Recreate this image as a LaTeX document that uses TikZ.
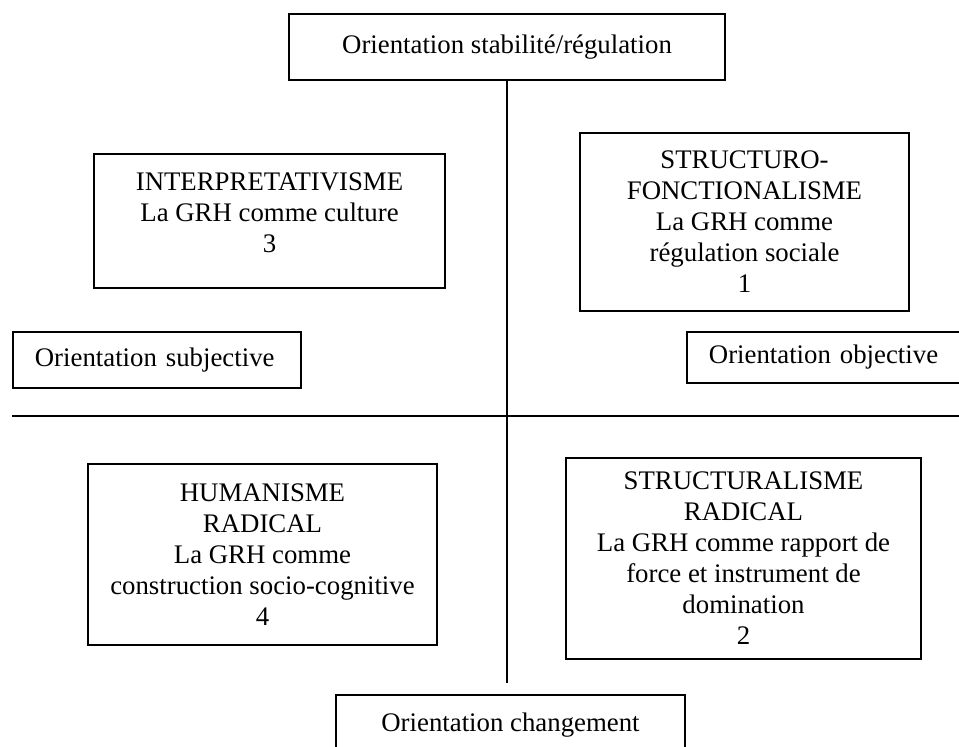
\documentclass[tikz,border=0pt]{standalone}
\usepackage{fontspec}
\setmainfont{Liberation Serif}

\begin{document}
\begin{tikzpicture}[
    x=0.5pt, y=-0.5pt,
    every node/.style={font=\fontsize{13.4}{15.5}\selectfont},
    quad/.style={rectangle, draw, line width=0.9pt, align=center, inner sep=0pt},
    orient/.style={rectangle, draw, line width=0.9pt, align=left, inner ysep=0pt, inner xsep=11pt, text width=122pt, anchor=west},
    axis/.style={draw, line width=0.9pt}
]

\useasboundingbox (0,0) rectangle (959,747);
\clip (0,0) rectangle (959,747);

% Poles
\node[quad, minimum width=218pt, minimum height=33pt] (stab) at (507,47) {Orientation stabilité/régulation};
\node[quad, minimum width=174.5pt, minimum height=30pt] (chg) at (510.5,725) {Orientation changement};
\node[orient, minimum height=28pt] (subj) at (12,360) {Orientation subjective};
\node[orient, minimum height=25.5pt] (obj) at (686,357.5) {Orientation objective};

% Quadrants
\node[quad, minimum width=175.5pt, minimum height=67pt] (interp) at (269.5,221) {INTERPRETATIVISME\\La GRH comme culture\\3\rule[-8.5pt]{0pt}{8.5pt}};
\node[quad, minimum width=164.5pt, minimum height=89pt] (fonct) at (744.5,222) {STRUCTURO-\\FONCTIONALISME\\La GRH comme\\régulation sociale\\1};
\node[quad, minimum width=174.5pt, minimum height=90.5pt] (human) at (262.5,554.5) {HUMANISME\\RADICAL\\La GRH comme\\construction socio-cognitive\\4};
\node[quad, minimum width=177.5pt, minimum height=100.5pt] (radical) at (743.5,558.5) {STRUCTURALISME\\RADICAL\\La GRH comme rapport de\\force et instrument de\\domination\\2};

% Axes
\coordinate (vend) at (507,683);
\coordinate (hleft) at (12,416);
\coordinate (hright) at (960,416);
\draw[axis] (stab) -- (vend);
\draw[axis] (hleft) -- (hright);

\end{tikzpicture}
\end{document}
